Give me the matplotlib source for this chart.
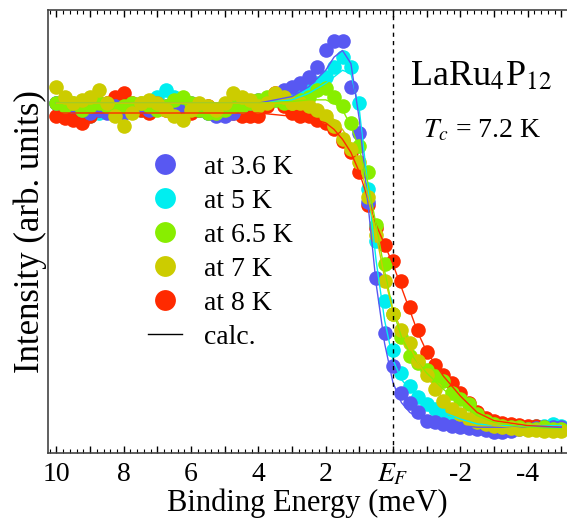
import matplotlib
matplotlib.use("Agg")
import matplotlib.pyplot as plt
from matplotlib.lines import Line2D
from matplotlib.ticker import MultipleLocator, FuncFormatter

plt.rcParams['font.family'] = ['Liberation Serif', 'DejaVu Serif']
plt.rcParams['mathtext.fontset'] = 'stix'
plt.rcParams['axes.unicode_minus'] = False

# Binding energy sampling (meV)
energy = [10, 9.75, 9.5, 9.25, 9, 8.75, 8.5, 8.25, 8, 7.75,
          7.5, 7.25, 7, 6.75, 6.5, 6.25, 6, 5.75, 5.5, 5.25,
          5, 4.75, 4.5, 4.25, 4, 3.75, 3.5, 3.25, 3, 2.75,
          2.5, 2.25, 2, 1.75, 1.5, 1.25, 1, 0.75, 0.5, 0.25,
          0, -0.25, -0.5, -0.75, -1, -1.25, -1.5, -1.75, -2, -2.25,
          -2.5, -2.75, -3, -3.25, -3.5, -3.75, -4, -4.25, -4.5, -4.75, -5]

i_36K = [1.00, 1.01, 0.99, 0.98, 0.97, 0.98, 0.97, 0.99, 0.97, 0.98,
         0.99, 0.98, 1.00, 0.99, 0.98, 0.99, 1.00, 0.98, 0.97, 0.96,
         0.96, 0.97, 0.99, 1.00, 1.01, 1.01, 1.02, 1.04, 1.05, 1.06,
         1.08, 1.11, 1.16, 1.19, 1.19, 1.05, 0.91, 0.70, 0.47, 0.30,
         0.20, 0.12, 0.09, 0.06, 0.035, 0.03, 0.025, 0.02, 0.015, 0.012,
         0.01, 0.006, 0.0, 0.0, 0.005, 0.01, 0.01, 0.012, 0.015, 0.015, 0.015]

i_5K = [1.00, 0.99, 0.98, 0.97, 0.96, 0.97, 0.98, 0.97, 0.98, 0.99,
        0.98, 0.99, 1.02, 1.04, 1.02, 1.00, 0.99, 0.98, 0.97, 0.98,
        0.98, 0.99, 1.00, 1.00, 1.00, 1.00, 1.01, 1.01, 1.02, 1.03,
        1.04, 1.06, 1.08, 1.11, 1.14, 1.11, 1.00, 0.74, 0.58, 0.40,
        0.25, 0.18, 0.14, 0.107, 0.085, 0.07, 0.055, 0.04, 0.032, 0.025,
        0.02, 0.02, 0.015, 0.015, 0.015, 0.02, 0.015, 0.02, 0.02, 0.025, 0.02]

i_65K = [1.00, 0.99, 1.00, 0.98, 0.99, 1.00, 0.99, 0.98, 0.99, 1.00,
         1.00, 0.99, 0.98, 0.99, 1.01, 1.02, 1.00, 0.98, 0.97, 0.97,
         0.98, 0.99, 0.99, 1.00, 1.01, 1.02, 1.01, 1.00, 1.00, 1.01,
         1.02, 1.04, 1.045, 1.02, 0.99, 0.94, 0.87, 0.79, 0.63, 0.51,
         0.36, 0.29, 0.23, 0.21, 0.19, 0.17, 0.155, 0.12, 0.10, 0.085,
         0.055, 0.035, 0.025, 0.02, 0.015, 0.015, 0.01, 0.01, 0.015, 0.01, 0.01]

i_7K = [1.05, 1.02, 1.00, 1.01, 1.02, 1.04, 1.00, 0.96, 0.93, 0.97,
        1.00, 1.01, 1.00, 0.98, 0.96, 0.95, 0.98, 1.00, 0.99, 0.98,
        1.00, 1.03, 1.02, 1.01, 0.99, 1.00, 1.03, 1.02, 1.00, 1.00,
        0.99, 0.98, 0.96, 0.93, 0.89, 0.86, 0.82, 0.715, 0.60, 0.46,
        0.36, 0.31, 0.27, 0.215, 0.175, 0.13, 0.095, 0.07, 0.055, 0.04,
        0.03, 0.025, 0.02, 0.015, 0.012, 0.01, 0.008, 0.006, 0.005, 0.004, 0.003]

i_8K = [0.96, 0.955, 0.95, 0.94, 0.96, 0.98, 1.00, 1.02, 1.03, 1.00,
        0.98, 0.97, 0.99, 0.98, 0.97, 0.96, 0.97, 0.98, 0.99, 0.98,
        0.97, 0.97, 0.96, 0.96, 0.96, 0.99, 1.03, 0.99, 0.97, 0.96,
        0.96, 0.95, 0.94, 0.92, 0.885, 0.85, 0.79, 0.69, 0.62, 0.57,
        0.52, 0.46, 0.38, 0.31, 0.245, 0.205, 0.175, 0.148, 0.118, 0.09,
        0.06, 0.042, 0.033, 0.028, 0.025, 0.022, 0.02, 0.018, 0.015, 0.012, 0.01]

# Calculated curves
calc_energy = [10, 4, 3, 2.5, 2, 1.75, 1.5, 1.25, 1, 0.75, 0.5, 0.25, 0,
               -0.25, -0.5, -0.75, -1, -1.5, -2, -2.5, -3, -4, -5]
calc_36K = [1.0, 1.0, 1.02, 1.05, 1.10, 1.14, 1.16, 1.12, 0.95, 0.70, 0.45, 0.27, 0.15,
            0.09, 0.06, 0.045, 0.035, 0.025, 0.02, 0.015, 0.015, 0.015, 0.015]
calc_5K = [1.0, 1.0, 1.01, 1.03, 1.06, 1.08, 1.10, 1.09, 0.98, 0.75, 0.52, 0.34, 0.22,
           0.16, 0.13, 0.11, 0.09, 0.06, 0.04, 0.025, 0.02, 0.02, 0.02]
calc_65K = [1.0, 1.0, 1.005, 1.01, 1.01, 1.0, 0.98, 0.93, 0.86, 0.76, 0.63, 0.49, 0.37,
            0.29, 0.24, 0.21, 0.18, 0.13, 0.09, 0.05, 0.03, 0.015, 0.01]
calc_7K = [1.0, 1.0, 1.0, 0.99, 0.97, 0.95, 0.92, 0.88, 0.82, 0.72, 0.60, 0.47, 0.37,
           0.31, 0.26, 0.21, 0.17, 0.10, 0.06, 0.035, 0.02, 0.01, 0.005]
calc_8K = [0.97, 0.97, 0.96, 0.955, 0.94, 0.92, 0.89, 0.85, 0.79, 0.71, 0.63, 0.57, 0.51,
           0.44, 0.37, 0.30, 0.245, 0.17, 0.11, 0.06, 0.035, 0.02, 0.015]

labels = ['at 3.6 K', 'at 5 K', 'at 6.5 K', 'at 7 K', 'at 8 K']
colors = ['#5858f2', '#00eef0', '#88ee00', '#cccc00', '#ff2a00']
series = [i_36K, i_5K, i_65K, i_7K, i_8K]
calcs = [calc_36K, calc_5K, calc_65K, calc_7K, calc_8K]

fig = plt.figure(figsize=(5.67, 5.27), dpi=100)
ax = fig.add_axes([0.0847, 0.140, 0.9153, 0.841])

draw_order = [1, 4, 0, 2, 3]
for k in draw_order:
    ax.plot(energy, series[k], 'o', color=colors[k], markersize=10.5,
            markeredgewidth=0, zorder=2)
for k in draw_order:
    ax.plot(calc_energy, calcs[k], '-', color=colors[k], lw=1.0, zorder=3)

ax.axvline(0, color='black', lw=1.0, ls=(0, (3, 3)), zorder=4)

ax.set_xlim(10.25, -5.17)
ax.set_ylim(-0.064, 1.283)

ax.xaxis.set_major_locator(MultipleLocator(1))
ax.xaxis.set_minor_locator(MultipleLocator(0.2))


def fmt(v, pos):
    n = int(round(v))
    if n == 0:
        return '$E_F$'
    if n % 2 == 0:
        return str(n)
    return ''


ax.xaxis.set_major_formatter(FuncFormatter(fmt))
ax.tick_params(axis='x', which='major', direction='in', length=5, width=1,
               top=True, bottom=True, labelsize=20, pad=6)
ax.tick_params(axis='x', which='minor', direction='in', length=3, width=0.8,
               top=True, bottom=True)
ax.set_yticks([])
for s in ['left', 'bottom', 'top']:
    ax.spines[s].set_linewidth(1.2)
    ax.spines[s].set_color('#444444')
ax.spines['right'].set_visible(False)

ax.set_xlabel('Binding Energy (meV)', fontsize=22, labelpad=1)
ax.set_ylabel('Intensity (arb. units)', fontsize=25, labelpad=1)

ax.text(0.697, 0.849, 'LaRu$_4$P$_{12}$', transform=ax.transAxes, fontsize=26,
        ha='left', va='center')
ax.text(0.722, 0.729, '$T_c$ = 7.2 K', transform=ax.transAxes, fontsize=20,
        ha='left', va='center')

handles = [Line2D([], [], ls='none', marker='o', markersize=15, markeredgewidth=0,
                  color=c) for c in colors]
handles.append(Line2D([], [], color='black', lw=1.0))
ax.legend(handles, labels + ['calc.'], loc='upper left',
          bbox_to_anchor=(0.172, 0.70), frameon=False, fontsize=20,
          handlelength=1.2, handletextpad=0.8, labelspacing=0.31,
          borderaxespad=0)

fig.savefig('out.png', dpi=100)
